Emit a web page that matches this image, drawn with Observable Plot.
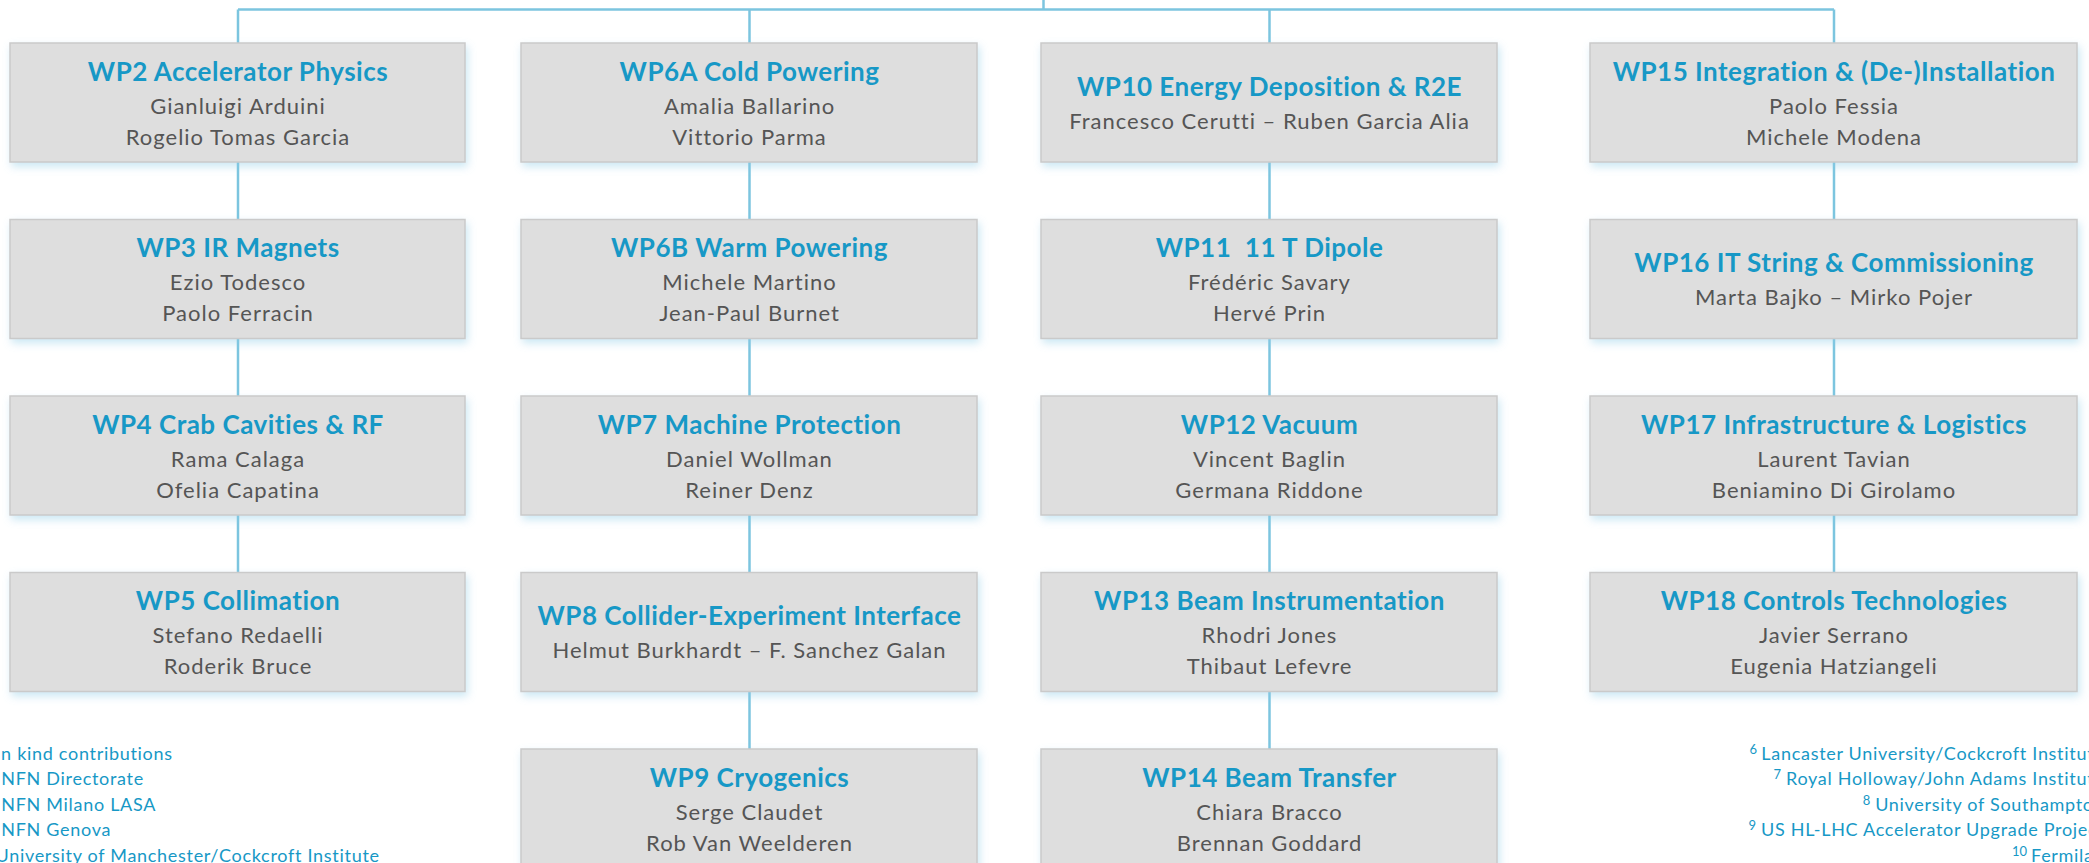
<!DOCTYPE html>
<html><head><meta charset="utf-8">
<script src="https://cdn.jsdelivr.net/npm/d3@7"></script>
<script src="https://cdn.jsdelivr.net/npm/@observablehq/plot@0.6"></script>
<style>html,body{margin:0;padding:0;background:#fff;overflow:hidden}</style>
</head><body><div id="chart"></div>
<script>
// ---- data ----
const titles = [
  "WP2 Accelerator Physics", "WP3 IR Magnets", "WP4 Crab Cavities & RF", "WP5 Collimation",
  "WP6A Cold Powering", "WP6B Warm Powering", "WP7 Machine Protection", "WP8 Collider-Experiment Interface", "WP9 Cryogenics",
  "WP10 Energy Deposition & R2E", "WP11  11 T Dipole", "WP12 Vacuum", "WP13 Beam Instrumentation", "WP14 Beam Transfer",
  "WP15 Integration & (De-)Installation", "WP16 IT String & Commissioning", "WP17 Infrastructure & Logistics", "WP18 Controls Technologies"
];
const leaders = [
  ["Gianluigi Arduini", "Rogelio Tomas Garcia"], ["Ezio Todesco", "Paolo Ferracin"], ["Rama Calaga", "Ofelia Capatina"], ["Stefano Redaelli", "Roderik Bruce"],
  ["Amalia Ballarino", "Vittorio Parma"], ["Michele Martino", "Jean-Paul Burnet"], ["Daniel Wollman", "Reiner Denz"], ["Helmut Burkhardt – F. Sanchez Galan"], ["Serge Claudet", "Rob Van Weelderen"],
  ["Francesco Cerutti – Ruben Garcia Alia"], ["Frédéric Savary", "Hervé Prin"], ["Vincent Baglin", "Germana Riddone"], ["Rhodri Jones", "Thibaut Lefevre"], ["Chiara Bracco", "Brennan Goddard"],
  ["Paolo Fessia", "Michele Modena"], ["Marta Bajko – Mirko Pojer"], ["Laurent Tavian", "Beniamino Di Girolamo"], ["Javier Serrano", "Eugenia Hatziangeli"]
];
const columnOf = [0,0,0,0, 1,1,1,1,1, 2,2,2,2,2, 3,3,3,3];
const rowOf    = [0,1,2,3, 0,1,2,3,4, 0,1,2,3,4, 0,1,2,3];
const notesLeftMarks = ["1","2","3","4","5"];
const notesLeft = ["In kind contributions", "INFN Directorate", "INFN Milano LASA", "INFN Genova", "University of Manchester/Cockcroft Institute"];
const notesRightMarks = ["6","7","8","9","10"];
const notesRight = ["Lancaster University/Cockcroft Institute", "Royal Holloway/John Adams Institute", "University of Southampton", "US HL-LHC Accelerator Upgrade Project", "Fermilab"];

// ---- layout ----
const W = 2089, H = 863;
const colLeft = [10, 521, 1041, 1590], colRight = [465, 977, 1497, 2077];
const top0 = 43, pitch = 176.5, boxH = 119, rootX = 1043, busY = 9;
const FONT = "Lato";
const BLUE = "#1798c6", GREY = "#555555", LINE = "#7cc5df";
const titleSize = 26, titleSpacing = 0.5, nameSize = 22, nameSpacing = 1.0;
const noteSize = 18, noteSpacing = 0.7, supSize = 13, noteY0 = 759, noteStep = 25.5;

const boxes = titles.map((t, i) => {
  const c = columnOf[i], r = rowOf[i];
  const y1 = top0 + r * pitch;
  return {title: t, names: leaders[i], col: c, row: r, x1: colLeft[c], x2: colRight[c], y1, y2: y1 + boxH, cx: (colLeft[c] + colRight[c]) / 2};
});
const titleRows = boxes.map(b => ({x: b.cx, y: b.y1 + (b.names.length === 1 ? 52 : 37), text: b.title}));
const nameRows = boxes.flatMap(b => b.names.map((n, j) => ({x: b.cx, y: b.y1 + (b.names.length === 1 ? 85 : 70) + j * 31, text: n})));

const colCenters = [0,1,2,3].map(c => (colLeft[c] + colRight[c]) / 2);
const lastTop = [0,1,2,3].map(c => top0 + d3.max(boxes.filter(b => b.col === c), b => b.row) * pitch);
const links = [
  {x1: rootX, y1: -2, x2: rootX, y2: busY},
  {x1: colCenters[0], y1: busY, x2: colCenters[3], y2: busY},
  ...colCenters.map((x, c) => ({x1: x, y1: busY, x2: x, y2: lastTop[c]}))
];

const ctx = document.createElement("canvas").getContext("2d");
ctx.font = `${noteSize}px ${FONT}`;
const textWidth = s => ctx.measureText(s).width + noteSpacing * s.length;
const leftStart = -5;
const leftRows = notesLeft.map((t, i) => ({x: leftStart, y: noteY0 + i * noteStep, text: t}));
const leftSups = notesLeftMarks.map((m, i) => ({x: leftStart - 4, y: noteY0 + i * noteStep - 6, text: m}));
const rightEnd = W + 15;
const rightRows = notesRight.map((t, i) => ({x: rightEnd, y: noteY0 + i * noteStep, text: t}));
const rightSups = notesRightMarks.map((m, i) => ({x: rightEnd - textWidth(notesRight[i]) - 4, y: noteY0 + i * noteStep - 6, text: m}));

const svg = Plot.plot({
  width: W, height: H, margin: 0,
  x: {domain: [0, W], range: [0, W], axis: null},
  y: {domain: [0, H], range: [0, H], axis: null},
  style: {fontFamily: FONT, background: "#fff"},
  marks: [
    Plot.link(links, {x1: "x1", y1: "y1", x2: "x2", y2: "y2", stroke: LINE, strokeWidth: 2.5, strokeLinecap: "butt"}),
    Plot.rect(boxes, {x1: "x1", x2: "x2", y1: "y1", y2: "y2", fill: "#dedede", stroke: "#cacaca", strokeWidth: 1.5}),
    Plot.text(titleRows, {x: "x", y: "y", text: "text", fill: BLUE, fontSize: titleSize, fontWeight: "bold", fontFamily: FONT, textAnchor: "middle", lineAnchor: "bottom"}),
    Plot.text(nameRows, {x: "x", y: "y", text: "text", fill: GREY, fontSize: nameSize, fontFamily: FONT, textAnchor: "middle", lineAnchor: "bottom"}),
    Plot.text(leftRows, {x: "x", y: "y", text: "text", fill: BLUE, fontSize: noteSize, fontFamily: FONT, textAnchor: "start", lineAnchor: "bottom"}),
    Plot.text(leftSups, {x: "x", y: "y", text: "text", fill: BLUE, fontSize: supSize, fontFamily: FONT, textAnchor: "end", lineAnchor: "bottom"}),
    Plot.text(rightRows, {x: "x", y: "y", text: "text", fill: BLUE, fontSize: noteSize, fontFamily: FONT, textAnchor: "end", lineAnchor: "bottom"}),
    Plot.text(rightSups, {x: "x", y: "y", text: "text", fill: BLUE, fontSize: supSize, fontFamily: FONT, textAnchor: "end", lineAnchor: "bottom"})
  ]
});

const ns = "http://www.w3.org/2000/svg";
const defs = document.createElementNS(ns, "defs");
defs.innerHTML = '<filter id="boxShadow" x="-5%" y="-10%" width="115%" height="140%"><feDropShadow dx="2" dy="4" stdDeviation="4" flood-color="#8ccbe6" flood-opacity="0.45"/></filter>';
svg.insertBefore(defs, svg.firstChild);
const rectEl = svg.querySelector("rect");
if (rectEl && rectEl.parentNode) rectEl.parentNode.setAttribute("filter", "url(#boxShadow)");
const titleSet = new Set(titles), nameSet = new Set(leaders.flat()), noteSet = new Set([...notesLeft, ...notesRight]);
svg.querySelectorAll("text").forEach(t => {
  const s = t.textContent;
  if (titleSet.has(s)) t.setAttribute("letter-spacing", titleSpacing);
  else if (nameSet.has(s)) t.setAttribute("letter-spacing", nameSpacing);
  else if (noteSet.has(s)) t.setAttribute("letter-spacing", noteSpacing);
});
document.getElementById("chart").appendChild(svg);
</script>
</body></html>
